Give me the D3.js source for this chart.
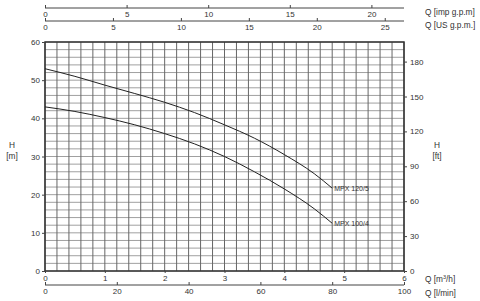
<!DOCTYPE html>
<html>
<head>
<meta charset="utf-8">
<script src="https://cdn.jsdelivr.net/npm/d3@7"></script>
<style>
  body { margin: 0; background: #fff; }
  text { font-family: "Liberation Sans", Arial, sans-serif; fill: #333; }
</style>
</head>
<body>
<svg id="chart" width="480" height="301"></svg>
<script>
// flow in m3/h, head in m
let flowPts = [0, 0.5, 1, 1.5, 2, 2.5, 3, 3.5, 4, 4.5, 4.8]
let headMPX120 = [53, 51, 48.7, 46.5, 44.2, 41.5, 38.3, 34.8, 30.5, 25.5, 21.7]
let headMPX100 = [43, 41.8, 40.2, 38.3, 36, 33.3, 30, 26, 21.5, 16.3, 12.5]
let curveNames = ['MPX 120/5', 'MPX 100/4']

let hTicks = [0, 10, 20, 30, 40, 50, 60]
let ftTicks = [0, 30, 60, 90, 120, 150, 180]
let m3hTicks = [0, 1, 2, 3, 4, 5, 6]
let lminTicks = [0, 20, 40, 60, 80, 100]
let impTicks = [0, 5, 10, 15, 20]
let usTicks = [0, 5, 10, 15, 20, 25]

let svg = d3.select('#chart')

let pL = 45, pR = 404, pT = 42, pB = 271

let x = d3.scaleLinear().domain([0, 6]).range([pL, pR])
let y = d3.scaleLinear().domain([0, 60]).range([pB, pT])
let yFt = d3.scaleLinear().domain([0, 60 * 3.28084]).range([pB, pT])
let xL = d3.scaleLinear().domain([0, 100]).range([pL, pR])
let xImp = d3.scaleLinear().domain([0, 6 * 3.6662]).range([pL, pR])
let xUs = d3.scaleLinear().domain([0, 6 * 4.4029]).range([pL, pR])

// grid
let g = svg.append('g')
g.selectAll('.hl')
    .data(d3.range(0, 61, 2))
    .enter().append('line')
    .attr('x1', pL).attr('x2', pR)
    .attr('y1', d => y(d)).attr('y2', d => y(d))
    .style('stroke', '#a0a0a0')
    .style('stroke-width', 1)
g.selectAll('.vl')
    .data(d3.range(0, 31).map(i => i * 0.2))
    .enter().append('line')
    .attr('x1', d => x(d)).attr('x2', d => x(d))
    .attr('y1', pT).attr('y2', pB)
    .style('stroke', '#666')
    .style('stroke-width', 1)

// frame
svg.append('rect')
    .attr('x', pL).attr('y', pT)
    .attr('width', pR - pL).attr('height', pB - pT)
    .style('fill', 'none')
    .style('stroke', '#333')
    .style('stroke-width', 1.5)

let fs = '8px'
let fmt = d3.format('d')

// left axis (m)
let axL = svg.append('g').attr('transform', `translate(${pL},0)`)
    .call(d3.axisLeft(y).tickValues(hTicks).tickSize(3).tickPadding(2))
// right axis (ft)
let axR = svg.append('g').attr('transform', `translate(${pR},0)`)
    .call(d3.axisRight(yFt).tickValues(ftTicks).tickSize(3).tickPadding(3))
// bottom m3/h
let axB = svg.append('g').attr('transform', `translate(0,${pB})`)
    .call(d3.axisBottom(x).tickValues(m3hTicks).tickFormat(fmt).tickSize(2).tickPadding(2))
// bottom l/min
let axB2 = svg.append('g').attr('transform', `translate(0,285)`)
    .call(d3.axisBottom(xL).tickValues(lminTicks).tickSize(-3).tickPadding(3))
// top imp gpm
let axT1 = svg.append('g').attr('transform', `translate(0,8)`)
    .call(d3.axisBottom(xImp).tickValues(impTicks).tickSize(-3).tickPadding(3))
// top US gpm
let axT2 = svg.append('g').attr('transform', `translate(0,21)`)
    .call(d3.axisBottom(xUs).tickValues(usTicks).tickSize(-3).tickPadding(3))

;[axL, axR, axB, axB2, axT1, axT2].forEach(a => {
    a.selectAll('text').style('font-size', fs).style('font-family', '"Liberation Sans", Arial, sans-serif').attr('fill', '#444')
    a.selectAll('line').attr('stroke', '#444')
    a.select('.domain').attr('stroke', '#444')
})
axL.select('.domain').remove()
axR.select('.domain').remove()
axB.select('.domain').remove()
axB2.select('.domain').attr('d', `M${pL},0H${pR}`)
axT1.select('.domain').attr('d', `M${pL},0H${pR}`)
axT2.select('.domain').attr('d', `M${pL},0H${pR}`)

// curves
let line = d3.line()
    .x((d, i) => x(flowPts[i]))
    .y(d => y(d))
    .curve(d3.curveMonotoneX)

;[headMPX120, headMPX100].forEach((series, k) => {
    svg.append('path')
        .datum(series)
        .attr('d', line)
        .style('fill', 'none')
        .style('stroke', '#222')
        .style('stroke-width', 1)
    svg.append('text')
        .attr('x', x(flowPts[flowPts.length - 1]) + 2)
        .attr('y', y(series[series.length - 1]) + 3)
        .style('font-size', '7px')
        .text(curveNames[k])
})

// axis titles
let titles = [
    ['H', 12, 148, 'middle'], ['[m]', 12, 159, 'middle'],
    ['H', 437, 148, 'middle'], ['[ft]', 437, 159, 'middle'],
    ['Q [imp g.p.m]', 425, 15, 'start'], ['Q [US g.p.m.]', 425, 28, 'start'],
    ['Q [l/min]', 425, 296, 'start']
]
titles.forEach(t => {
    svg.append('text')
        .attr('x', t[1]).attr('y', t[2])
        .attr('text-anchor', t[3])
        .style('font-size', '8.3px')
        .text(t[0])
})
let qm = svg.append('text').attr('x', 425).attr('y', 282).style('font-size', '8.3px')
qm.append('tspan').text('Q [m')
qm.append('tspan').text('3').attr('dy', -3).style('font-size', '5.5px')
qm.append('tspan').text('/h]').attr('dy', 3)
</script>
</body>
</html>
